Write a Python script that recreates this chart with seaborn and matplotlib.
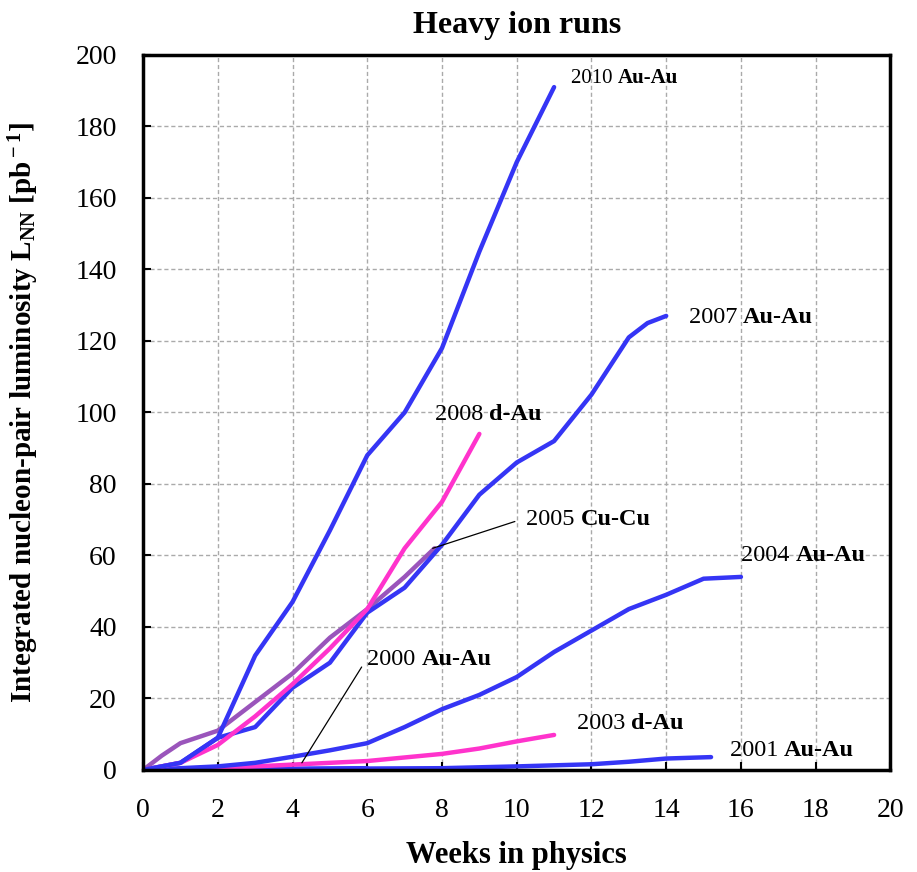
import matplotlib
matplotlib.use("Agg")
import matplotlib.pyplot as plt
import numpy as np
import pandas as pd
import seaborn as sns

# data (weeks, integrated luminosity in pb^-1)
wk_2010 = [0, 1, 2, 3, 4, 5, 6, 7, 8, 9, 10, 11]
lum_2010 = [0, 2, 9, 32, 47, 67, 88, 100, 118, 145, 170, 191]

wk_2007 = [0, 1, 2, 3, 4, 5, 6, 7, 8, 9, 10, 11, 12, 12.5, 13, 13.5, 14]
lum_2007 = [0, 2, 9, 12, 23, 30, 44, 51, 63, 77, 86, 92, 105, 113, 121, 125, 127]

wk_2008 = [0, 1, 2, 3, 4, 5, 6, 7, 8, 9]
lum_2008 = [0, 2, 7, 15, 24, 34, 45, 62, 75, 94]

wk_2005 = [0, 0.5, 1, 2, 3, 4, 5, 6, 7, 7.8]
lum_2005 = [0, 4, 7.5, 11, 19, 27, 37, 45, 54, 62]

wk_2004 = [0, 1, 2, 3, 4, 5, 6, 7, 8, 9, 10, 11, 12, 13, 14, 15, 16]
lum_2004 = [0, 0.5, 1, 2, 3.7, 5.5, 7.5, 12, 17, 21, 26, 33, 39, 45, 49, 53.5, 54]

wk_2003 = [0, 2, 4, 6, 8, 9, 10, 11]
lum_2003 = [0, 0.5, 1.5, 2.5, 4.5, 6, 8, 9.8]

wk_2001 = [0, 4, 8, 10, 12, 13, 14, 15.2]
lum_2001 = [0, 0.3, 0.5, 1, 1.6, 2.3, 3.2, 3.6]

wk_2000 = [0, 2, 4, 6]
lum_2000 = [0, 0.1, 0.3, 0.5]

runs = ["2000", "2001", "2003", "2004", "2005", "2007", "2008", "2010"]
weeks = [wk_2000, wk_2001, wk_2003, wk_2004, wk_2005, wk_2007, wk_2008, wk_2010]
lums = [lum_2000, lum_2001, lum_2003, lum_2004, lum_2005, lum_2007, lum_2008, lum_2010]

blue = "#3535f5"
pink = "#ff33cc"
purple = "#9a55bb"
colors = {"2000": blue, "2001": blue, "2003": pink, "2004": blue,
          "2005": purple, "2007": blue, "2008": pink, "2010": blue}

# labels: (year, species, x, y, fontsize)
labels = [
    ("2010", "Au-Au", 11.45, 193.5, 15),
    ("2007", "Au-Au", 14.6, 126.5, 17.5),
    ("2008", "d-Au", 7.8, 99.5, 17.5),
    ("2005", "Cu-Cu", 10.25, 70, 17.5),
    ("2004", "Au-Au", 16.0, 60, 17.5),
    ("2000", "Au-Au", 6.0, 31, 17.5),
    ("2003", "d-Au", 11.6, 13, 17.5),
    ("2001", "Au-Au", 15.7, 5.5, 17.5),
]

df = pd.concat([pd.DataFrame({"run": r, "weeks": w, "lum": l})
                for r, w, l in zip(runs, weeks, lums)], ignore_index=True)

sns.set_style("white")
plt.rcParams['font.family'] = ['Liberation Serif', 'DejaVu Serif']
plt.rcParams['text.color'] = 'black'
plt.rcParams['axes.labelcolor'] = 'black'
plt.rcParams['mathtext.fontset'] = 'custom'
plt.rcParams['mathtext.rm'] = 'Liberation Serif:bold'
plt.rcParams['mathtext.it'] = 'Liberation Serif:bold'
plt.rcParams['mathtext.bf'] = 'Liberation Serif:bold'

fig = plt.figure(figsize=(9.17, 8.72), dpi=100)
ax = fig.add_axes([0.156, 0.117, 0.815, 0.82])

sns.lineplot(data=df, x="weeks", y="lum", hue="run", palette=colors,
             estimator=None, sort=False, linewidth=3.2, legend=False, ax=ax)

ax.set_xlim(0, 20)
ax.set_ylim(0, 200)
ax.set_xticks(np.arange(0, 21, 2))
ax.set_yticks(np.arange(0, 201, 20))
ax.grid(True, linestyle=(0, (3, 2)), color="#aaaaaa", linewidth=1.0)
ax.tick_params(axis="x", bottom=True, direction="in", length=6, width=1.5,
               labelsize=20, colors="black", pad=20)
ax.tick_params(axis="y", left=True, direction="in", length=6, width=1.5,
               labelsize=20, colors="black", pad=19)
for s in ax.spines.values():
    s.set_color("black")
    s.set_linewidth(2.5)

ax.set_title("Heavy ion runs", fontsize=23, fontweight="bold", pad=16, color="black")
ax.set_xlabel("Weeks in physics", fontsize=22, fontweight="bold")
ax.set_ylabel(r"Integrated nucleon-pair luminosity L$_{\rm NN}$ [pb$^{\rm -1}$]",
              fontsize=21, fontweight="bold")
ax.xaxis.set_label_coords(0.5, -0.1)
ax.yaxis.set_label_coords(-0.137, 0.5)

for yr, sp, x, y, fs in labels:
    t = ax.text(x, y, yr + " ", fontsize=fs, va="center", ha="left")
    ax.annotate(sp, xycoords=t, xy=(1, 0.5), va="center", ha="left",
                fontsize=fs, fontweight="bold")

# pointer lines
ax.plot([9.95, 7.75], [69.5, 62], color="black", linewidth=0.9)
ax.plot([5.85, 4.25], [28.8, 2], color="black", linewidth=0.9)

fig.savefig("out.png", dpi=100)
